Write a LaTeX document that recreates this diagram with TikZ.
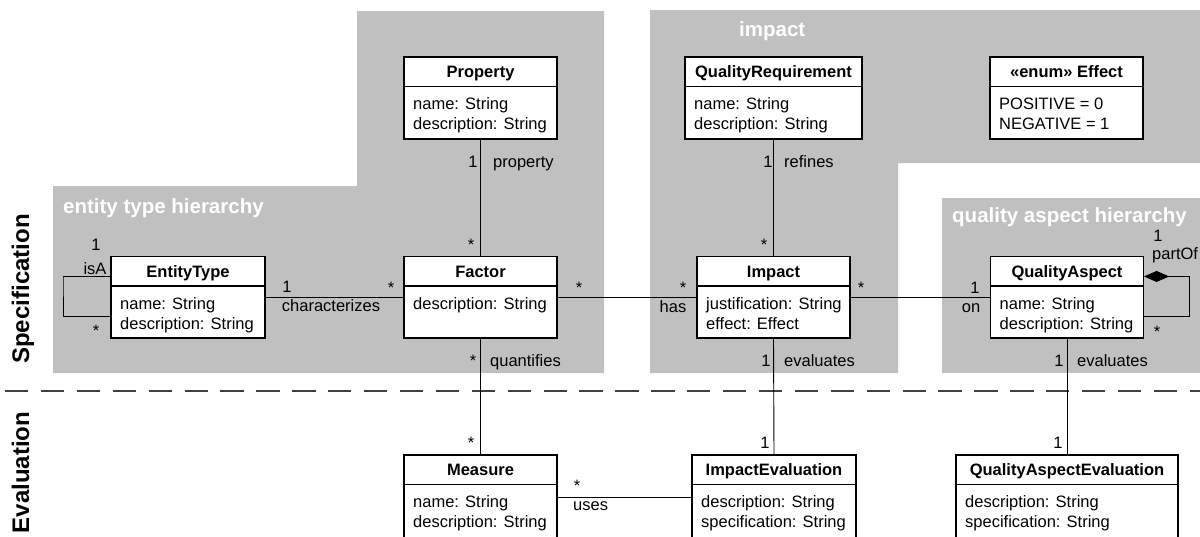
\documentclass[tikz,border=0pt]{standalone}
\usepackage{fontspec}
\setmainfont{Liberation Sans}
\usetikzlibrary{arrows.meta}
\definecolor{regiongray}{RGB}{192,192,192}
\definecolor{dashgray}{RGB}{64,64,64}
\tikzset{
  classbox/.style={draw=black, fill=white, line width=1.1pt, inner sep=0pt},
  classtitle/.style={font=\fontsize{16.5}{19}\selectfont\bfseries, anchor=base, inner sep=0pt},
  classbody/.style={font=\fontsize{16.5}{19}\selectfont, anchor=base west, inner sep=0pt},
  mult/.style={font=\fontsize{16.5}{19}\selectfont, anchor=base, inner sep=0pt},
  rolelabel/.style={font=\fontsize{16.5}{19}\selectfont, anchor=base west, inner sep=0pt},
  assoc/.style={draw=black, line width=0.9pt},
  regionlabel/.style={font=\fontsize{20.5}{24}\selectfont\bfseries, text=white, anchor=base west, inner sep=0pt},
  sidelabel/.style={font=\fontsize{24}{28}\selectfont\bfseries, rotate=90, anchor=base, inner sep=0pt},
  sepline/.style={draw=dashgray, line width=2.5pt, dash pattern=on 23.3pt off 12.6pt},
}
% name, left, top, right, bottom, title, body line 1, body line 2
\newcommand\umlclass[8]{%
  \node[classbox, minimum width={(#4-#2)*1pt}, minimum height={(#5-#3)*1pt}] (#1) at ({(#2+#4)/2},{(#3+#5)/2}) {};
  \draw[line width=1.1pt] (#2,#3+29.5) -- (#4,#3+29.5);
  \node[classtitle] (#1-title) at ({(#2+#4)/2},#3+20.5) {#6};
  \node[classbody] (#1-a) at (#2+9,#3+52.5) {#7};
  \node[classbody] (#1-b) at (#2+9,#3+72.5) {#8};
}
\begin{document}
\begin{tikzpicture}[x=1pt,y=-1pt]
\useasboundingbox (0,0) rectangle (1200,536);
\clip (0,0) rectangle (1200,536);
% regions
\fill[regiongray] (53,186) -- (357,186) -- (357,11) -- (604,11) -- (604,373) -- (53,373) -- cycle;
\fill[regiongray] (650,10) -- (1200,10) -- (1200,163) -- (898,163) -- (898,373) -- (650,373) -- cycle;
\fill[regiongray] (942,198) rectangle (1200,373);
\node[regionlabel] (lbl-eth) at (63,213) {entity type hierarchy};
\node[regionlabel] (lbl-imp) at (739,36) {impact};
\node[regionlabel] (lbl-qah) at (952,222) {quality aspect hierarchy};
% side labels
\node[sidelabel] (side-spec) at (29,289) {Specification};
\node[sidelabel] (side-eval) at (29,472.5) {Evaluation};
% separator
\coordinate (sepL) at (5,391);
\coordinate (sepR) at (1200,391);
\draw[sepline] (sepL) -- (sepR);
% connectors
\coordinate (isaA) at (63,277);
\coordinate (poA) at (1189,277);
% classes
\umlclass{prop}{404}{57}{557}{139}{Property}{name: String}{description: String}
\umlclass{qreq}{685}{57}{862}{139}{QualityRequirement}{name: String}{description: String}
\umlclass{eff}{990}{57}{1143}{139}{«enum» Effect}{POSITIVE = 0}{NEGATIVE = 1}
\umlclass{ent}{111}{256.5}{265}{338}{EntityType}{name: String}{description: String}
\umlclass{fac}{404}{256.5}{557}{338}{Factor}{description: String}{}
\umlclass{imp}{697}{256.5}{850}{338}{Impact}{justification: String}{effect: Effect}
\umlclass{qa}{990.5}{256.5}{1143.5}{338}{QualityAspect}{name: String}{description: String}
\umlclass{meas}{404}{455}{557}{539}{Measure}{name: String}{description: String}
\umlclass{ieval}{692}{455}{856}{539}{ImpactEvaluation}{description: String}{specification: String}
\umlclass{qaeval}{956}{455}{1178}{539}{QualityAspectEvaluation}{description: String}{specification: String}
% associations
\draw[assoc] ([yshift=-20.5pt]ent.north west) -| (isaA) |- ([yshift=-60.5pt]ent.north west);
\draw[assoc] (ent.east) -- (fac.west);
\draw[assoc] (prop.south) -- (fac.north);
\draw[assoc] (fac.east) -- (imp.west);
\draw[assoc] (qreq.south) -- (imp.north);
\draw[assoc] (imp.east) -- (qa.west);
\draw[assoc, {Diamond[length=25pt,width=11pt]}-] ([yshift=-20.5pt]qa.north east) -| (poA) |- ([yshift=-60.5pt]qa.north east);
\draw[assoc] (fac.south) -- (meas.north);
\draw[assoc] (imp.south) -- (ieval.north);
\draw[assoc] (qa.south) -- (qaeval.north);
\draw[assoc] (meas.east) -- (ieval.west);
% multiplicities and roles
\node[mult] (m-isa1) at (96,250) {1};
\node[mult] (r-isa) at (95,274) {isA};
\node[mult] (m-isa2) at (96,336) {*};
\node[mult] (m-ch1) at (287,292) {1};
\node[mult] (r-ch) at (331,311) {characterizes};
\node[mult] (m-ch2) at (391,293) {*};
\node[mult] (m-pr1) at (473,167) {1};
\node[rolelabel] (r-pr) at (493,167) {property};
\node[mult] (m-pr2) at (471,250) {*};
\node[mult] (m-has1) at (579,293) {*};
\node[mult] (m-has2) at (683,293) {*};
\node[mult] (r-has) at (673,312) {has};
\node[mult] (m-rf1) at (768,167) {1};
\node[rolelabel] (r-rf) at (784,167) {refines};
\node[mult] (m-rf2) at (764,250) {*};
\node[mult] (m-on1) at (861,293) {*};
\node[mult] (m-on2) at (975,293) {1};
\node[mult] (r-on) at (971,312) {on};
\node[mult] (m-po1) at (1158,241) {1};
\node[rolelabel] (r-po) at (1152,259) {partOf};
\node[mult] (m-po2) at (1157,337) {*};
\node[mult] (m-qu1) at (473,366) {*};
\node[rolelabel] (r-qu) at (490,366) {quantifies};
\node[mult] (m-qu2) at (471,448) {*};
\node[mult] (m-ev1) at (766,366) {1};
\node[rolelabel] (r-ev) at (784,366) {evaluates};
\node[mult] (m-ev2) at (765,448) {1};
\node[mult] (m-eq1) at (1059,366) {1};
\node[rolelabel] (r-eq) at (1077,366) {evaluates};
\node[mult] (m-eq2) at (1058,448) {1};
\node[mult] (m-us1) at (577,491) {*};
\node[rolelabel] (r-us) at (573,510) {uses};
\end{tikzpicture}
\end{document}
